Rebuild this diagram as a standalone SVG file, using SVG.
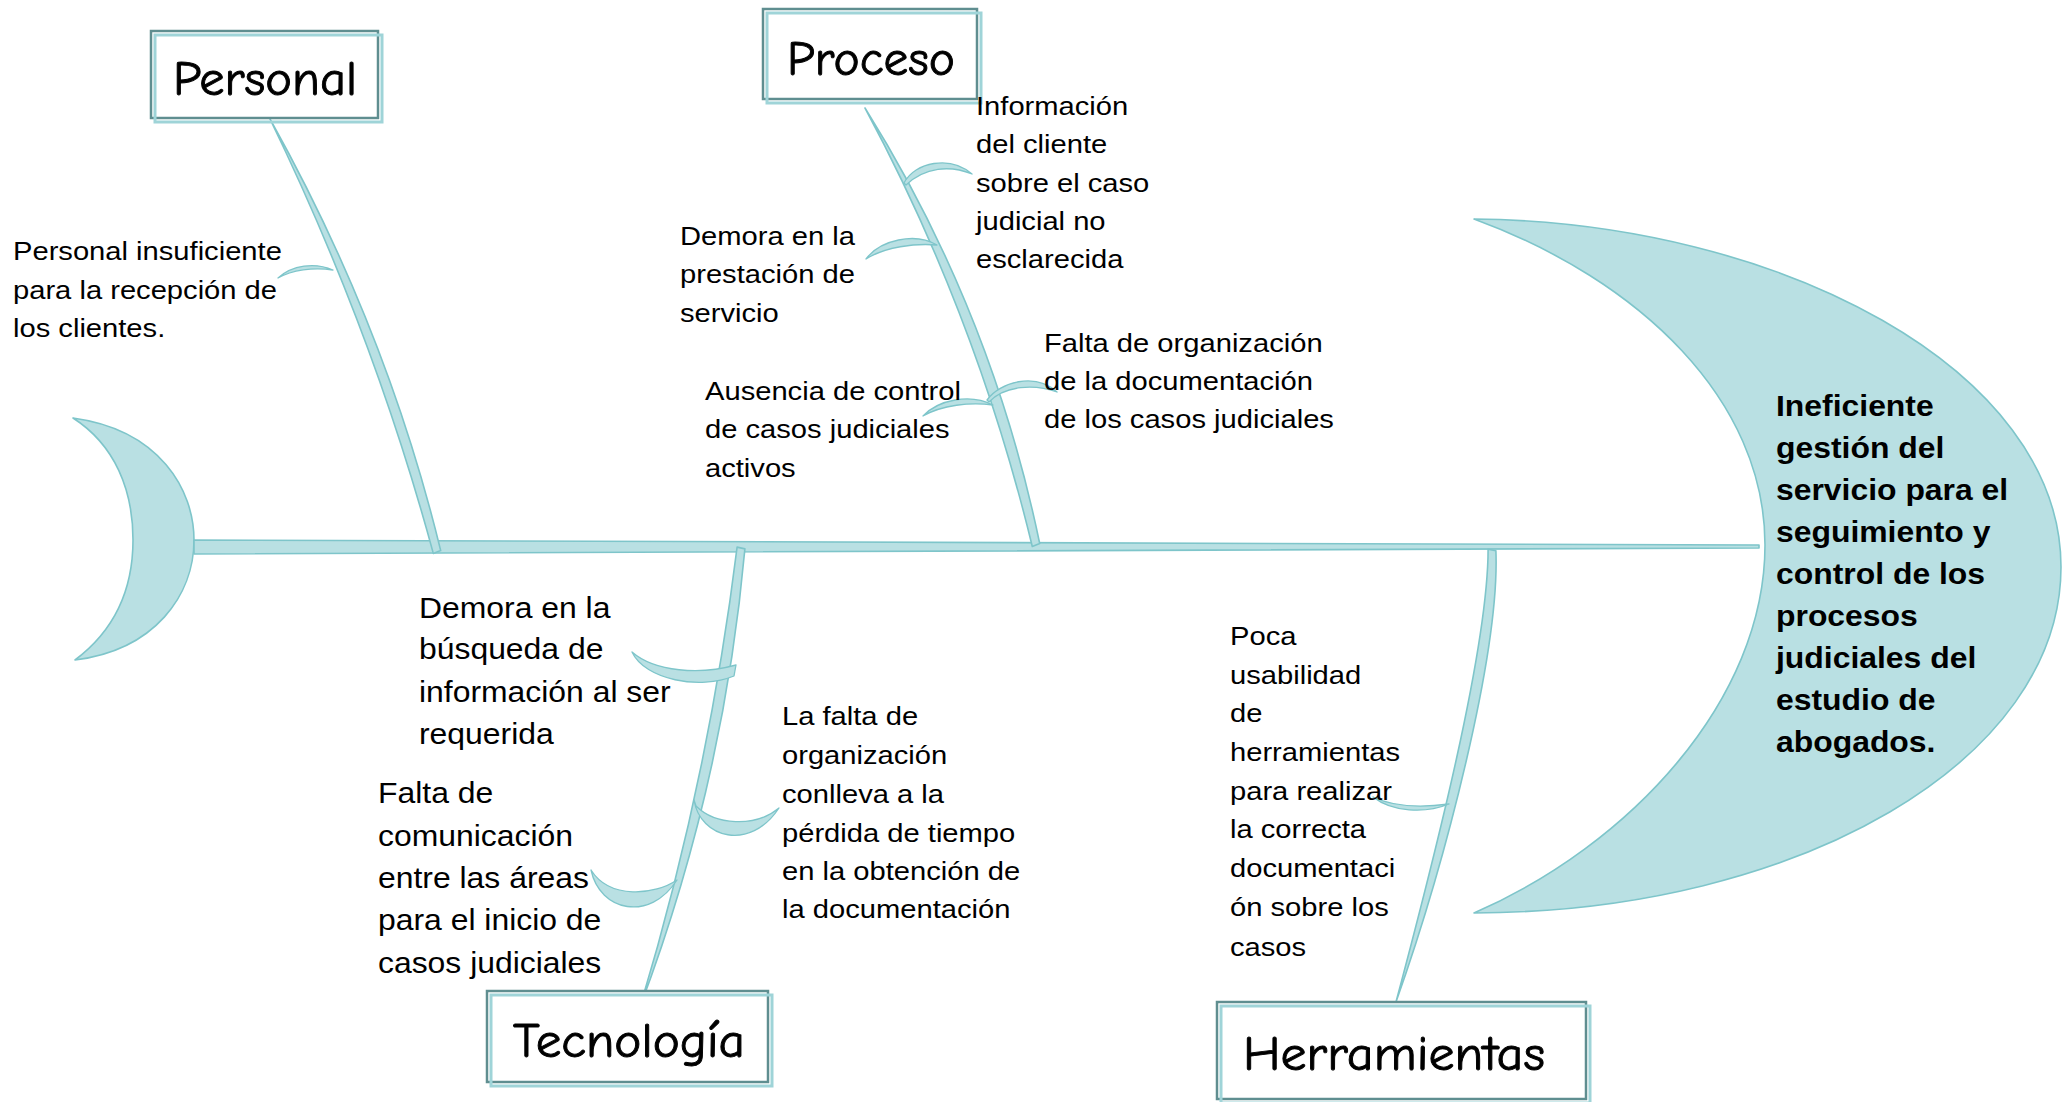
<svg xmlns="http://www.w3.org/2000/svg" width="2069" height="1102" viewBox="0 0 2069 1102">
<style>
.t{font-family:"Liberation Sans",Arial,sans-serif;font-size:26.5px;fill:#000}
.tl{font-family:"Liberation Sans",Arial,sans-serif;font-size:29px;fill:#000}
.tb{font-family:"Liberation Sans",Arial,sans-serif;font-size:29px;font-weight:bold;fill:#000}
.cat{font-family:"Comic Sans MS","Comic Neue","DejaVu Sans",sans-serif;font-size:48px;fill:#000;stroke:#000;stroke-width:0.9;text-anchor:middle}
.bone{fill:#b9e0e3;stroke:#7ec5ca;stroke-width:1.6;stroke-linejoin:round}
.twig{fill:#b9e0e3;stroke:#7ec5ca;stroke-width:1.3;stroke-linejoin:round}
.bx{fill:#fff;stroke:#5f8e90;stroke-width:2.5}
.bx2{fill:none;stroke:#9fd4d8;stroke-width:3}
</style>

<!-- connectors: spine, bones, twigs -->
<g id="connectors">
<path id="tail" class="bone" d="M73,418 C160,430 194,490 194,540 C194,595 155,650 75,660 C115,630 133,590 133,540 C133,490 115,445 73,418 Z"/>
<path id="spine" class="bone" d="M194,540 L1759,545 L1759,548 L194,554 Z"/>
<path class="bone" d="M270,119 Q373.5,332.5 433.3,553.4 L440.7,550.6 Q386.5,327.5 270,119 Z"/>
<path class="bone" d="M865,108 Q976.5,315.9 1032.3,546.5 L1039.7,543.5 Q991.4,310.1 865,108 Z"/>
<path class="bone" d="M640,1007 Q708.2,781.3 737.1,547.1 L744.9,548.9 Q723.8,784.7 640,1007 Z"/>
<path class="bone" d="M1396,1002 C1434.1,858.8 1488.1,648.8 1488.1,549.2 L1495.9,550.8 C1499.9,651.2 1445.9,861.2 1396,1002 Z"/>
<path class="twig" d="M278,278 C292,265 315,262 333,270 C313,267 292,270 278,278 Z"/>
<path class="twig" d="M904,183 C915,162 950,155 972,174 C950,165 925,167 906,185 Z"/>
<path class="twig" d="M866,259 C880,240 915,232 937,245 C915,243 885,247 866,259 Z"/>
<path class="twig" d="M923,416 C938,400 970,393 993,405 C970,402 942,405 923,416 Z"/>
<path class="twig" d="M987,400 C1000,382 1035,372 1057,392 C1035,384 1005,385 989,402 Z"/>
<path class="twig" d="M632,652 C645,680 700,690 734,676 L736,665 C700,675 655,672 632,652 Z"/>
<path class="twig" d="M694,800 C700,838 750,852 779,808 C755,828 715,825 696,806 Z"/>
<path class="twig" d="M591,870 C600,912 650,922 677,880 C655,895 610,900 591,870 Z"/>
<path class="twig" d="M1373,797 C1392,806 1420,808 1449,804 C1425,814 1392,812 1373,797 Z"/>
</g>

<!-- category boxes -->
<g id="personal"><rect class="bx" x="151" y="31" width="227" height="87"/><rect class="bx2" x="155" y="35" width="227" height="87"/><text class="cat" x="265" y="95" textLength="184" lengthAdjust="spacingAndGlyphs">Personal</text></g>
<g id="proceso"><rect class="bx" x="763" y="9" width="214" height="90"/><rect class="bx2" x="767" y="13" width="214" height="90"/><text class="cat" x="871" y="75" textLength="168" lengthAdjust="spacingAndGlyphs">Proceso</text></g>
<g id="tecnologia"><rect class="bx" x="487" y="991" width="281" height="91"/><rect class="bx2" x="491" y="995" width="281" height="91"/><text class="cat" x="629" y="1057" textLength="232" lengthAdjust="spacingAndGlyphs">Tecnología</text></g>
<g id="herramientas"><rect class="bx" x="1217" y="1002" width="369" height="97"/><rect class="bx2" x="1221" y="1006" width="369" height="97"/><text class="cat" x="1394" y="1070" textLength="302" lengthAdjust="spacingAndGlyphs">Herramientas</text></g>

<!-- cause texts -->
<g id="c-personal" transform="translate(13 0) scale(1.1 1)"><text class="t"><tspan x="0" y="260">Personal insuficiente</tspan><tspan x="0" y="299">para la recepción de</tspan><tspan x="0" y="337">los clientes.</tspan></text></g>
<g id="c-informacion" transform="translate(976 0) scale(1.1 1)"><text class="t"><tspan x="0" y="115">Información</tspan><tspan x="0" y="153">del cliente</tspan><tspan x="0" y="192">sobre el caso</tspan><tspan x="0" y="230">judicial no</tspan><tspan x="0" y="268">esclarecida</tspan></text></g>
<g id="c-demora-prestacion" transform="translate(680 0) scale(1.1 1)"><text class="t"><tspan x="0" y="245">Demora en la</tspan><tspan x="0" y="283">prestación de</tspan><tspan x="0" y="322">servicio</tspan></text></g>
<g id="c-ausencia" transform="translate(705 0) scale(1.1 1)"><text class="t"><tspan x="0" y="400">Ausencia de control</tspan><tspan x="0" y="438">de casos judiciales</tspan><tspan x="0" y="477">activos</tspan></text></g>
<g id="c-falta-org" transform="translate(1044 0) scale(1.1 1)"><text class="t"><tspan x="0" y="352">Falta de organización</tspan><tspan x="0" y="390">de la documentación</tspan><tspan x="0" y="428">de los casos judiciales</tspan></text></g>
<g id="c-demora-busqueda" transform="translate(419 0) scale(1.1 1)"><text class="tl"><tspan x="0" y="618">Demora en la</tspan><tspan x="0" y="659">búsqueda de</tspan><tspan x="0" y="702">información al ser</tspan><tspan x="0" y="744">requerida</tspan></text></g>
<g id="c-comunicacion" transform="translate(378 0) scale(1.1 1)"><text class="tl"><tspan x="0" y="803">Falta de</tspan><tspan x="0" y="846">comunicación</tspan><tspan x="0" y="888">entre las áreas</tspan><tspan x="0" y="930">para el inicio de</tspan><tspan x="0" y="973">casos judiciales</tspan></text></g>
<g id="c-perdida" transform="translate(782 0) scale(1.1 1)"><text class="t"><tspan x="0" y="725">La falta de</tspan><tspan x="0" y="764">organización</tspan><tspan x="0" y="803">conlleva a la</tspan><tspan x="0" y="842">pérdida de tiempo</tspan><tspan x="0" y="880">en la obtención de</tspan><tspan x="0" y="918">la documentación</tspan></text></g>
<g id="c-usabilidad" transform="translate(1230 0) scale(1.1 1)"><text class="t"><tspan x="0" y="645">Poca</tspan><tspan x="0" y="684">usabilidad</tspan><tspan x="0" y="722">de</tspan><tspan x="0" y="761">herramientas</tspan><tspan x="0" y="800">para realizar</tspan><tspan x="0" y="838">la correcta</tspan><tspan x="0" y="877">documentaci</tspan><tspan x="0" y="916">ón sobre los</tspan><tspan x="0" y="956">casos</tspan></text></g>

<!-- effect (head) -->
<g id="efecto">
<path class="bone" d="M1474,219 C1780,222 2061,370 2061,567 C2061,760 1800,912 1474,913 C1630,845 1765,700 1765,545 C1765,400 1640,280 1474,219 Z"/>
<g transform="translate(1776 0) scale(1.1 1)"><text class="tb"><tspan x="0" y="416">Ineficiente</tspan><tspan x="0" y="458">gestión del</tspan><tspan x="0" y="500">servicio para el</tspan><tspan x="0" y="542">seguimiento y</tspan><tspan x="0" y="584">control de los</tspan><tspan x="0" y="626">procesos</tspan><tspan x="0" y="668">judiciales del</tspan><tspan x="0" y="710">estudio de</tspan><tspan x="0" y="752">abogados.</tspan></text></g>
</g>
</svg>
